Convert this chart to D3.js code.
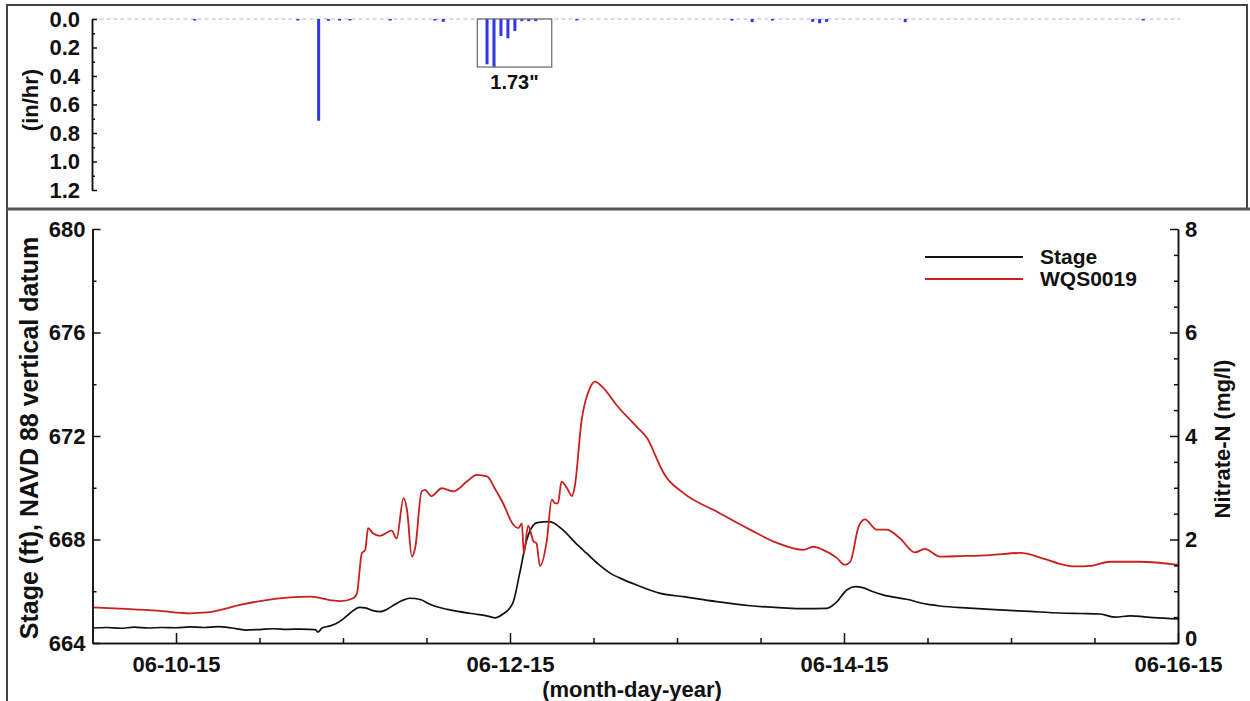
<!DOCTYPE html>
<html>
<head>
<meta charset="utf-8">
<script src="https://cdn.jsdelivr.net/npm/d3@7"></script>
<style>
  body { margin: 0; background: #fff; }
  text { font-family: "Liberation Sans", Arial, sans-serif; font-weight: bold; fill: #111; }
</style>
</head>
<body>
<div id="chart"></div>
<script>
// hours after 06-09-15 12:00
const stageHours = [0,2,4,6,8,10,12,14,16,18,20,22,24,26,28,30,32,32.4,33,34,35.1,36,37,38.4,39.2,40.3,41.3,42.5,43.5,44.5,45.6,47.1,48.5,49.5,51,52.5,54.2,55.5,57.1,57.8,59,60.4,61.4,62.4,63.9,65.7,67.6,69.3,71,72.7,74.4,76.3,78.2,81.6,84.9,89.7,94.5,99.2,102,105.5,107,108.4,109.6,110.7,112,113.6,117,119.9,121.8,126,130.4,134.7,139,142,144.8,147,149.1,152.5,156];
const stageValues = [664.58,664.6,664.57,664.61,664.58,664.6,664.59,664.62,664.6,664.63,664.58,664.5,664.52,664.55,664.53,664.54,664.52,664.42,664.58,664.65,664.76,664.92,665.15,665.38,665.36,665.25,665.21,665.33,665.5,665.64,665.73,665.68,665.5,665.4,665.3,665.22,665.15,665.1,665.02,664.97,665.12,665.54,666.7,667.98,668.65,668.69,668.37,667.9,667.47,667.05,666.7,666.45,666.24,665.92,665.79,665.6,665.44,665.36,665.33,665.34,665.6,666.05,666.18,666.14,666.0,665.86,665.69,665.5,665.43,665.35,665.28,665.22,665.16,665.14,665.12,665.0,665.05,664.98,664.93];

const nitrateHours = [0,4.7,9.3,14,16.5,19,21.2,24.5,28.4,31.3,34.1,35.6,37.4,38,38.7,39.2,39.6,40.3,41.3,43,43.7,44.7,45.2,45.9,46.4,47.3,47.8,48.7,50.2,51.9,53.8,55.2,56.7,57.8,59,60.5,61.2,61.7,62,62.6,63.4,63.8,64.3,65.3,66,66.5,66.9,67.4,68.2,68.9,69.3,70.3,71.5,72.2,73.4,75.3,78.2,79.7,81.6,82.1,84.9,89.7,94.5,98.3,102.2,103.6,105,107,108.1,108.9,110.1,111,112.7,114.1,116,118.2,119.6,121.8,124.7,129,133.3,136.9,139,141.2,143.4,146.2,150.5,156];
const nitrateValues = [0.69,0.66,0.625,0.574,0.59,0.66,0.735,0.82,0.88,0.895,0.83,0.81,0.86,0.96,1.73,1.80,2.22,2.12,2.07,2.17,2.02,2.80,2.57,1.67,1.86,2.93,2.96,2.84,2.99,2.93,3.12,3.25,3.22,2.99,2.70,2.28,2.22,2.31,1.73,2.27,1.96,1.93,1.49,1.99,2.77,2.70,2.70,3.12,2.99,2.84,3.02,4.31,4.93,5.05,4.93,4.60,4.18,3.96,3.41,3.28,2.90,2.54,2.19,1.94,1.80,1.86,1.80,1.64,1.51,1.57,2.25,2.39,2.19,2.19,2.03,1.75,1.82,1.67,1.68,1.70,1.74,1.62,1.53,1.48,1.49,1.57,1.57,1.51];

const rainHours = [14.7,29.5,32.5,33.9,35.5,37,42.8,49.2,50.4,56.7,57.7,58.7,59.7,60.7,61.7,62.7,63.7,69.6,91.9,94.8,97.7,103.5,104.5,105.5,116.8,151];
const rainValues = [0.005,0.005,0.714,0.012,0.008,0.005,0.005,0.008,0.02,0.318,0.337,0.119,0.135,0.084,0.015,0.015,0.015,0.005,0.008,0.022,0.005,0.02,0.03,0.02,0.022,0.005];

// storm total box: hours and depth
const stormBox = {startHour: 55.3, endHour: 66, depth: 0.337, label: "1.73\""};

const rainTicks = [0, 0.2, 0.4, 0.6, 0.8, 1.0, 1.2];
const stageTicks = [664, 668, 672, 676, 680];
const nitrateTicks = [0, 2, 4, 6, 8];
const dateTicks = ["2015-06-10", "2015-06-12", "2015-06-14", "2015-06-16"];
const seriesNames = ["Stage", "WQS0019"];
const seriesColors = ["#111111", "#c8201e"];

const width = 1250, height = 701;
const start = new Date(2015, 5, 9, 12);
const end = new Date(2015, 5, 16, 0);
const toDate = h => new Date(start.getTime() + h * 3600000);
const parseDay = d3.timeParse("%Y-%m-%d");

const svg = d3.select("#chart").append("svg")
    .attr("width", width).attr("height", height)
    .style("background", "#fff");

// frame
svg.append("rect").attr("x", 7).attr("y", 5).attr("width", 1240).attr("height", 204)
    .attr("fill", "none").attr("stroke", "#444").attr("stroke-width", 2);
svg.append("line").attr("x1", 7).attr("x2", 7).attr("y1", 209).attr("y2", 701)
    .attr("stroke", "#444").attr("stroke-width", 2);
svg.append("line").attr("x1", 7).attr("x2", 1250).attr("y1", 209).attr("y2", 209)
    .attr("stroke", "#555").attr("stroke-width", 3);

const x = d3.scaleTime().domain([start, end]).range([92.5, 1178]);

// ---- rainfall panel ----
const yRain = d3.scaleLinear().domain([0, 1.2]).range([19, 190]);

svg.append("line")
    .attr("x1", x(start)).attr("x2", x(end) + 2)
    .attr("y1", yRain(0)).attr("y2", yRain(0))
    .attr("stroke", "#aab0e6").attr("stroke-width", 1).attr("stroke-dasharray", "4,3");

svg.append("g").selectAll("rect").data(rainHours).enter().append("rect")
    .attr("x", (d) => x(toDate(d)) - 1.5)
    .attr("y", yRain(0))
    .attr("width", 3)
    .attr("height", (d, i) => Math.max(1.5, yRain(rainValues[i]) - yRain(0)))
    .attr("fill", "#2f35e8");

svg.append("rect")
    .attr("x", x(toDate(stormBox.startHour)))
    .attr("y", yRain(0))
    .attr("width", x(toDate(stormBox.endHour)) - x(toDate(stormBox.startHour)))
    .attr("height", yRain(stormBox.depth) - yRain(0))
    .attr("fill", "none").attr("stroke", "#666").attr("stroke-width", 1.2);

svg.append("text")
    .attr("x", (x(toDate(stormBox.startHour)) + x(toDate(stormBox.endHour))) / 2)
    .attr("y", 89).attr("text-anchor", "middle").style("font-size", "20px")
    .text(stormBox.label);

svg.append("g").attr("transform", "translate(92,0)")
    .call(d3.axisLeft(yRain).tickValues(rainTicks).tickFormat(d3.format(".1f"))
        .tickSizeInner(-5).tickSizeOuter(0).tickPadding(12));
svg.append("g").attr("transform", "translate(92,0)")
    .call(d3.axisLeft(yRain).tickValues(d3.range(0.1, 1.2, 0.2)).tickFormat("")
        .tickSizeInner(-3).tickSizeOuter(0));

svg.append("text")
    .attr("transform", "translate(38,100) rotate(-90)")
    .attr("text-anchor", "middle").style("font-size", "22px")
    .text("(in/hr)");

// ---- stage / nitrate panel ----
const yStage = d3.scaleLinear().domain([664, 680]).range([643, 229]);
const yNit = d3.scaleLinear().domain([0, 8]).range([643, 229]);

const stageLine = d3.line().curve(d3.curveMonotoneX)
    .x((d, i) => x(toDate(stageHours[i]))).y(d => yStage(d));
const nitLine = d3.line().curve(d3.curveMonotoneX)
    .x((d, i) => x(toDate(nitrateHours[i]))).y(d => yNit(d));

svg.append("path").datum(stageValues).attr("d", stageLine)
    .attr("fill", "none").attr("stroke", seriesColors[0]).attr("stroke-width", 1.7)
    .attr("stroke-linejoin", "round");
svg.append("path").datum(nitrateValues).attr("d", nitLine)
    .attr("fill", "none").attr("stroke", seriesColors[1]).attr("stroke-width", 1.8)
    .attr("stroke-linejoin", "round");

// left axis
svg.append("g").attr("transform", "translate(92.5,0)")
    .call(d3.axisLeft(yStage).tickValues(stageTicks).tickFormat(d3.format("d"))
        .tickSizeInner(-8).tickSizeOuter(0).tickPadding(7));
svg.append("g").attr("transform", "translate(92.5,0)")
    .call(d3.axisLeft(yStage).tickValues(d3.range(666, 680, 4)).tickFormat("")
        .tickSizeInner(-4).tickSizeOuter(0));

// right axis
const rightAxis = svg.append("g").attr("transform", "translate(1178,0)")
    .call(d3.axisRight(yNit).tickValues(nitrateTicks).tickFormat(d3.format("d"))
        .tickSizeInner(-8).tickSizeOuter(0).tickPadding(7));
svg.append("g").attr("transform", "translate(1178,0)")
    .call(d3.axisRight(yNit).tickValues(d3.range(0.5, 8, 0.5).filter(v => v % 2 !== 0)).tickFormat("")
        .tickSizeInner(-4).tickSizeOuter(0));

// bottom axis
const dayTicks = dateTicks.map(parseDay);
svg.append("g").attr("transform", "translate(0,643)")
    .call(d3.axisBottom(x).tickValues(dayTicks).tickFormat(d3.timeFormat("%m-%d-%y"))
        .tickSizeInner(-10).tickSizeOuter(0).tickPadding(13));
svg.append("g").attr("transform", "translate(0,643)")
    .call(d3.axisBottom(x).tickValues(d3.timeHour.every(12).range(new Date(2015, 5, 10), end)
        .filter(d => !dayTicks.some(t => +t === +d))).tickFormat("")
        .tickSizeInner(-5).tickSizeOuter(0));

svg.selectAll(".tick text").style("font-size", "22px").style("font-family", "'Liberation Sans', Arial, sans-serif")
    .style("font-weight", "bold").attr("fill", "#111");
svg.selectAll(".domain, .tick line").attr("stroke", "#111").attr("stroke-width", 1.5);
// lift the bottom "0" a little so it clears the date label below it
rightAxis.selectAll(".tick text").filter(d => d === 0).attr("dy", "0.1em");

svg.append("text")
    .attr("x", 632).attr("y", 697).attr("text-anchor", "middle").style("font-size", "22px")
    .text("(month-day-year)");

svg.append("text")
    .attr("transform", "translate(38,438) rotate(-90)")
    .attr("text-anchor", "middle").style("font-size", "25px")
    .text("Stage (ft), NAVD 88 vertical datum");

svg.append("text")
    .attr("transform", "translate(1230,439) rotate(-90)")
    .attr("text-anchor", "middle").style("font-size", "22px")
    .text("Nitrate-N (mg/l)");

// legend
const legend = svg.append("g").selectAll("g").data(seriesNames).enter().append("g")
    .attr("transform", (d, i) => `translate(925,${257 + i * 22})`);
legend.append("line").attr("x1", 0).attr("x2", 98)
    .attr("stroke", (d, i) => seriesColors[i]).attr("stroke-width", 2);
legend.append("text").attr("x", 115).attr("dy", "0.35em").style("font-size", "21px")
    .text(d => d);
</script>
</body>
</html>
